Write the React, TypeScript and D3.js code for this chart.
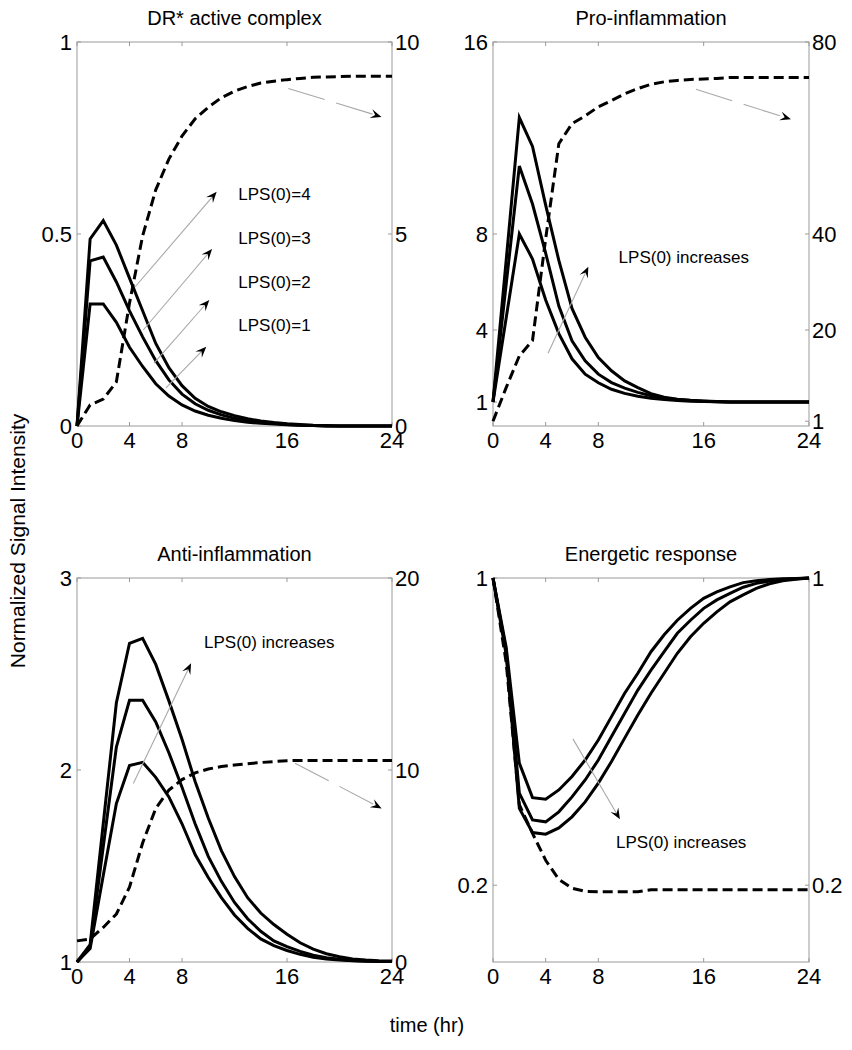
import React from "react";
import * as d3 from "d3";

// ---------------- data ----------------
const hours = [0, 1, 2, 3, 4, 5, 6, 7, 8, 9, 10, 11, 12, 13, 14, 15, 16, 17, 18, 19, 20, 21, 22, 23, 24];
const xTicks = [0, 4, 8, 16, 24];

// DR* active complex (left axis 0..1, right axis 0..10)
const drLps1 = [0, 0.318, 0.318, 0.27, 0.205, 0.155, 0.11, 0.078, 0.055, 0.039, 0.028, 0.02, 0.014, 0.01, 0.007, 0.005, 0.003, 0.002, 0.001, 0, 0, 0, 0, 0, 0];
const drLps2 = [0, 0.43, 0.44, 0.375, 0.3, 0.232, 0.17, 0.12, 0.083, 0.058, 0.041, 0.029, 0.02, 0.014, 0.01, 0.007, 0.004, 0.002, 0.001, 0, 0, 0, 0, 0, 0];
const drLps3 = [0, 0.487, 0.535, 0.471, 0.385, 0.3, 0.215, 0.152, 0.105, 0.072, 0.051, 0.037, 0.027, 0.019, 0.013, 0.009, 0.006, 0.004, 0.002, 0.001, 0, 0, 0, 0, 0];
const drDashed = [0, 0.55, 0.7, 1.15, 3.2, 4.95, 6.15, 6.95, 7.55, 8.0, 8.3, 8.55, 8.72, 8.84, 8.93, 8.98, 9.02, 9.05, 9.08, 9.09, 9.1, 9.11, 9.11, 9.11, 9.11];
const drLeftTicks = [0, 0.5, 1];
const drRightTicks = [0, 5, 10];

// Pro-inflammation (left 0..16, right 0..80)
const proLps1 = [1, 4.5, 8.0, 6.96, 5.25, 3.85, 2.8, 2.16, 1.8, 1.53, 1.36, 1.24, 1.16, 1.1, 1.06, 1.03, 1.02, 1.01, 1.0, 1.0, 1.0, 1.0, 1.0, 1.0, 1.0];
const proLps2 = [1, 5.9, 10.83, 9.25, 7.2, 5.0, 3.55, 2.72, 2.16, 1.81, 1.58, 1.4, 1.26, 1.16, 1.1, 1.06, 1.03, 1.01, 1.0, 1.0, 1.0, 1.0, 1.0, 1.0, 1.0];
const proLps3 = [1, 6.9, 12.85, 11.65, 9.2, 6.9, 4.9, 3.7, 2.85, 2.3, 1.88, 1.6, 1.35, 1.2, 1.12, 1.07, 1.04, 1.02, 1.0, 1.0, 1.0, 1.0, 1.0, 1.0, 1.0];
const proDashed = [1, 8, 14.6, 17.8, 39, 58.8, 63, 64.6, 66.5, 67.8, 69.2, 70.3, 71.2, 71.7, 72.0, 72.2, 72.3, 72.4, 72.6, 72.6, 72.6, 72.6, 72.6, 72.6, 72.6];
const proLeftTicks = [1, 4, 8, 16];
const proRightTicks = [1, 20, 40, 80];

// Anti-inflammation (left 1..3, right 0..20)
const antiLps1 = [1.0, 1.07, 1.45, 1.825, 2.023, 2.04, 1.962, 1.86, 1.72, 1.56, 1.44, 1.335, 1.245, 1.175, 1.12, 1.085, 1.06, 1.04, 1.025, 1.015, 1.01, 1.006, 1.004, 1.002, 1.002];
const antiLps2 = [1.0, 1.08, 1.6, 2.12, 2.363, 2.363, 2.25, 2.09, 1.91, 1.72, 1.55, 1.42, 1.31, 1.225, 1.16, 1.11, 1.08, 1.055, 1.035, 1.022, 1.014, 1.008, 1.005, 1.003, 1.003];
const antiLps3 = [1.0, 1.09, 1.72, 2.35, 2.66, 2.686, 2.55, 2.36, 2.16, 1.94, 1.75, 1.58, 1.445, 1.335, 1.255, 1.195, 1.145, 1.1, 1.067, 1.043, 1.027, 1.016, 1.01, 1.006, 1.005];
const antiDashed = [1.1, 1.2, 1.8, 2.5, 3.9, 6.2, 8.0, 8.95, 9.5, 9.85, 10.05, 10.18, 10.26, 10.33, 10.39, 10.44, 10.48, 10.5, 10.5, 10.5, 10.5, 10.5, 10.5, 10.5, 10.5];
const antiLeftTicks = [1, 2, 3];
const antiRightTicks = [0, 10, 20];

// Energetic response (left 0..1, right 0..1)
const enLps1 = [1, 0.82, 0.518, 0.428, 0.424, 0.448, 0.483, 0.526, 0.578, 0.639, 0.7, 0.752, 0.808, 0.852, 0.89, 0.921, 0.947, 0.964, 0.977, 0.988, 0.993, 0.996, 0.998, 0.999, 1.0];
const enLps2 = [1, 0.81, 0.44, 0.37, 0.365, 0.391, 0.43, 0.474, 0.526, 0.587, 0.648, 0.708, 0.76, 0.808, 0.856, 0.89, 0.921, 0.943, 0.96, 0.976, 0.986, 0.992, 0.996, 0.998, 1.0];
const enLps3 = [1, 0.8, 0.4, 0.337, 0.333, 0.349, 0.378, 0.417, 0.466, 0.522, 0.583, 0.643, 0.7, 0.752, 0.804, 0.847, 0.882, 0.912, 0.938, 0.956, 0.973, 0.985, 0.993, 0.997, 1.0];
const enDashed = [1, 0.78, 0.41, 0.335, 0.265, 0.215, 0.192, 0.184, 0.183, 0.183, 0.183, 0.183, 0.188, 0.188, 0.188, 0.188, 0.188, 0.188, 0.188, 0.188, 0.188, 0.188, 0.188, 0.188, 0.188];
const enLeftTicks = [0.2, 1];
const enRightTicks = [0.2, 1];

const titles = ["DR* active complex", "Pro-inflammation", "Anti-inflammation", "Energetic response"];
const lpsLabels = ["LPS(0)=4", "LPS(0)=3", "LPS(0)=2", "LPS(0)=1"];
const increasesLabel = "LPS(0) increases";

// ---------------- layout ----------------
const W = 852;
const H = 1050;
const FONT = "'Liberation Sans', Arial, Helvetica, sans-serif";
const AXIS_GRAY = "#9a9a9a";
const ARROW_GRAY = "#a8a8a8";

type Ann = { x1: number; y1: number; x2: number; y2: number; dashed?: boolean };
type Lab = { x: number; y: number; text: string };

const panels = [
  {
    title: titles[0], x0: 77, x1: 392, y0: 42, y1: 426,
    leftDomain: [0, 1], rightDomain: [0, 10],
    leftTicks: drLeftTicks, rightTicks: drRightTicks,
    solid: [drLps1, drLps2, drLps3], dashed: drDashed,
    arrows: [
      { x1: 16.1, y1: 0.879, x2: 23.2, y2: 0.805, dashed: true },
      { x1: 4.42, y1: 0.362, x2: 10.64, y2: 0.61 },
      { x1: 5.05, y1: 0.25, x2: 10.29, y2: 0.461 },
      { x1: 5.87, y1: 0.164, x2: 10.08, y2: 0.328 },
      { x1: 6.78, y1: 0.099, x2: 9.85, y2: 0.2065 },
    ] as Ann[],
    labels: [
      { x: 12.29, y: 0.604, text: lpsLabels[0] },
      { x: 12.29, y: 0.489, text: lpsLabels[1] },
      { x: 12.29, y: 0.376, text: lpsLabels[2] },
      { x: 12.29, y: 0.263, text: lpsLabels[3] },
    ] as Lab[],
  },
  {
    title: titles[1], x0: 493, x1: 809, y0: 42, y1: 426,
    leftDomain: [0, 16], rightDomain: [0, 80],
    leftTicks: proLeftTicks, rightTicks: proRightTicks,
    solid: [proLps1, proLps2, proLps3], dashed: proDashed,
    arrows: [
      { x1: 15.41, y1: 14.03, x2: 22.63, y2: 12.78, dashed: true },
      { x1: 4.18, y1: 3.03, x2: 7.24, y2: 6.64 },
    ] as Ann[],
    labels: [{ x: 9.54, y: 7.05, text: increasesLabel }] as Lab[],
  },
  {
    title: titles[2], x0: 77, x1: 392, y0: 578, y1: 962,
    leftDomain: [1, 3], rightDomain: [0, 20],
    leftTicks: antiLeftTicks, rightTicks: antiRightTicks,
    solid: [antiLps1, antiLps2, antiLps3], dashed: antiDashed,
    arrows: [
      { x1: 16.61, y1: 2.035, x2: 23.21, y2: 1.8, dashed: true },
      { x1: 4.29, y1: 1.93, x2: 8.69, y2: 2.556 },
    ] as Ann[],
    labels: [{ x: 9.68, y: 2.668, text: increasesLabel }] as Lab[],
  },
  {
    title: titles[3], x0: 493, x1: 809, y0: 578, y1: 962,
    leftDomain: [0, 1], rightDomain: [0, 1],
    leftTicks: enLeftTicks, rightTicks: enRightTicks,
    solid: [enLps1, enLps2, enLps3], dashed: enDashed,
    arrows: [{ x1: 6.07, y1: 0.581, x2: 9.64, y2: 0.372 }] as Ann[],
    labels: [{ x: 9.34, y: 0.313, text: increasesLabel }] as Lab[],
  },
];

function Arrow({ x1, y1, x2, y2, dashed }: { x1: number; y1: number; x2: number; y2: number; dashed?: boolean }) {
  const ang = Math.atan2(y2 - y1, x2 - x1);
  const L = 11;
  const Wd = 4.5;
  const c = Math.cos(ang);
  const s = Math.sin(ang);
  const pts: [number, number][] = [[0, 0], [-L, -Wd], [-L * 0.6, 0], [-L, Wd]];
  const poly = pts.map(([px, py]) => `${x2 + px * c - py * s},${y2 + px * s + py * c}`).join(" ");
  const ex = x2 - L * 0.6 * c;
  const ey = y2 - L * 0.6 * s;
  return (
    <g>
      <line x1={x1} y1={y1} x2={ex} y2={ey} stroke={ARROW_GRAY} strokeWidth={1.1}
        strokeDasharray={dashed ? "38,12" : undefined} />
      <polygon points={poly} fill="#000" />
    </g>
  );
}

function Panel({ p }: { p: (typeof panels)[number] }) {
  const x = d3.scaleLinear().domain([0, 24]).range([p.x0, p.x1]);
  const yL = d3.scaleLinear().domain(p.leftDomain).range([p.y1, p.y0]);
  const yR = d3.scaleLinear().domain(p.rightDomain).range([p.y1, p.y0]);
  const lineL = d3.line<number>().x((_, i) => x(hours[i])).y((d) => yL(d));
  const lineR = d3.line<number>().x((_, i) => x(hours[i])).y((d) => yR(d));
  const tk = 4;
  const tickFont = 22;
  return (
    <g>
      {/* box */}
      <rect x={p.x0} y={p.y0} width={p.x1 - p.x0} height={p.y1 - p.y0} fill="none" stroke={AXIS_GRAY} strokeWidth={1} />
      {/* x ticks (bottom & top) */}
      {xTicks.map((t) => (
        <g key={"xt" + t}>
          <line x1={x(t)} x2={x(t)} y1={p.y1} y2={p.y1 - tk} stroke={AXIS_GRAY} />
          <line x1={x(t)} x2={x(t)} y1={p.y0} y2={p.y0 + tk} stroke={AXIS_GRAY} />
          <text x={x(t)} y={p.y1 + 22} textAnchor="middle" fontSize={tickFont} fontFamily={FONT}>{t}</text>
        </g>
      ))}
      {/* left ticks */}
      {p.leftTicks.map((t) => (
        <g key={"lt" + t}>
          <line x1={p.x0} x2={p.x0 + tk} y1={yL(t)} y2={yL(t)} stroke={AXIS_GRAY} />
          <text x={p.x0 - 5} y={yL(t)} dy="0.36em" textAnchor="end" fontSize={tickFont} fontFamily={FONT}>{t}</text>
        </g>
      ))}
      {/* right ticks */}
      {p.rightTicks.map((t) => (
        <g key={"rt" + t}>
          <line x1={p.x1} x2={p.x1 - tk} y1={yR(t)} y2={yR(t)} stroke={AXIS_GRAY} />
          <text x={p.x1 + 3} y={yR(t)} dy="0.36em" textAnchor="start" fontSize={tickFont} fontFamily={FONT}>{t}</text>
        </g>
      ))}
      {/* title */}
      <text x={(p.x0 + p.x1) / 2} y={p.y0 - 17} textAnchor="middle" fontSize={20} fontFamily={FONT}>{p.title}</text>
      {/* curves */}
      <path d={lineR(p.dashed) || ""} fill="none" stroke="#000" strokeWidth={3} strokeDasharray="10,5" />
      {p.solid.map((s, i) => (
        <path key={"s" + i} d={lineL(s) || ""} fill="none" stroke="#000" strokeWidth={3} strokeLinejoin="miter" />
      ))}
      {/* annotations */}
      {p.arrows.map((a, i) => (
        <Arrow key={"a" + i} x1={x(a.x1)} y1={yL(a.y1)} x2={x(a.x2)} y2={yL(a.y2)} dashed={a.dashed} />
      ))}
      {p.labels.map((l, i) => (
        <text key={"l" + i} x={x(l.x)} y={yL(l.y)} dy="0.36em" fontSize={17} fontFamily={FONT}>{l.text}</text>
      ))}
    </g>
  );
}

export default function App() {
  return (
    <svg width={W} height={H} viewBox={`0 0 ${W} ${H}`} style={{ position: "absolute", left: 0, top: 0, background: "#fff" }}>
      <rect x={0} y={0} width={W} height={H} fill="#fff" />
      {panels.map((p, i) => (
        <Panel key={i} p={p} />
      ))}
      <text transform="translate(25,541) rotate(-90)" textAnchor="middle" fontSize={21} fontFamily={FONT}>Normalized Signal Intensity</text>
      <text x={427} y={1032} textAnchor="middle" fontSize={20} fontFamily={FONT}>time (hr)</text>
    </svg>
  );
}
